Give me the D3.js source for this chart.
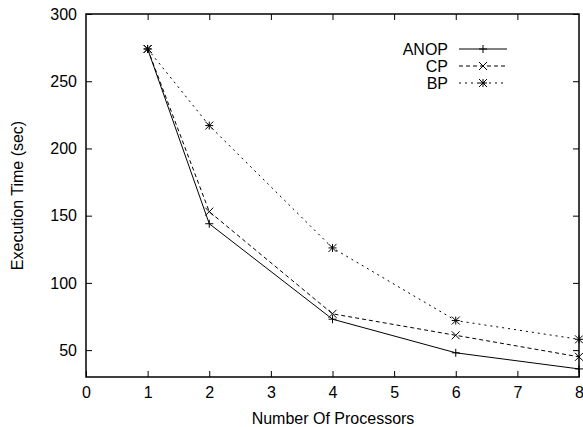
<!DOCTYPE html>
<html>
<head>
<meta charset="utf-8">
<script src="https://cdn.jsdelivr.net/npm/d3@7"></script>
<style>
  body { margin: 0; background: #fff; }
  svg { display: block; font-family: "Liberation Sans", Arial, sans-serif; }
</style>
</head>
<body>
<div id="chart"></div>
<script>
// Datos
const procesadores = [1, 2, 4, 6, 8];
const anop = [274, 144, 73, 48, 36];
const cp = [274, 153, 77, 61, 45];
const bp = [274, 217, 126, 72, 58];
const xTicks = [0, 1, 2, 3, 4, 5, 6, 7, 8];
const yTicks = [50, 100, 150, 200, 250, 300];

const series = [
  { nombre: "ANOP", valores: anop, dash: null, marca: "plus" },
  { nombre: "CP", valores: cp, dash: "4,3", marca: "cross" },
  { nombre: "BP", valores: bp, dash: "2,4", marca: "star" }
];

const width = 583, height = 427;
const mLeft = 86, mRight = 579, mTop = 14, mBottom = 377;
const fuente = "16px";

const x = d3.scaleLinear().domain([0, 8]).range([mLeft, mRight]);
const y = d3.scaleLinear().domain([30, 300]).range([mBottom, mTop]);

const svg = d3.select("#chart").append("svg")
  .attr("width", width)
  .attr("height", height);

// Marcas tipo gnuplot
function marca(g, tipo, cx, cy) {
  const r = 4;
  const p = [];
  if (tipo === "plus" || tipo === "star") {
    p.push([cx - r, cy, cx + r, cy], [cx, cy - r, cx, cy + r]);
  }
  if (tipo === "cross" || tipo === "star") {
    p.push([cx - r, cy - r, cx + r, cy + r], [cx - r, cy + r, cx + r, cy - r]);
  }
  p.forEach(s => {
    g.append("line")
      .attr("x1", s[0]).attr("y1", s[1]).attr("x2", s[2]).attr("y2", s[3])
      .attr("stroke", "#000").attr("stroke-width", 1);
  });
}

// Eje X (abajo y arriba, ticks hacia dentro)
svg.append("g")
  .attr("transform", `translate(0,${mBottom})`)
  .call(d3.axisBottom(x).tickValues(xTicks).tickSize(-6).tickPadding(10).tickFormat(d3.format("d")))
  .call(g => g.select(".domain").remove())
  .selectAll("text").style("font-size", fuente).attr("fill", "#000");

svg.append("g")
  .attr("transform", `translate(0,${mTop})`)
  .call(d3.axisTop(x).tickValues(xTicks.slice(1, 8)).tickSize(-6).tickFormat(""))
  .call(g => g.select(".domain").remove());

// Eje Y (izquierda y derecha)
svg.append("g")
  .attr("transform", `translate(${mLeft},0)`)
  .call(d3.axisLeft(y).tickValues(yTicks).tickSize(-6).tickPadding(9))
  .call(g => g.select(".domain").remove())
  .selectAll("text").style("font-size", fuente).attr("fill", "#000");

svg.append("g")
  .attr("transform", `translate(${mRight},0)`)
  .call(d3.axisRight(y).tickValues(yTicks).tickSize(-6).tickFormat(""))
  .call(g => g.select(".domain").remove());

// Borde
svg.append("rect")
  .attr("x", mLeft).attr("y", mTop)
  .attr("width", mRight - mLeft).attr("height", mBottom - mTop)
  .attr("fill", "none").attr("stroke", "#000").attr("stroke-width", 1.5);

// Líneas
const linea = d3.line().x((d, i) => x(procesadores[i])).y(d => y(d));

series.forEach(s => {
  svg.append("path")
    .datum(s.valores)
    .attr("d", linea)
    .attr("fill", "none")
    .attr("stroke", "#000")
    .attr("stroke-width", 1)
    .attr("stroke-dasharray", s.dash);
  const g = svg.append("g");
  s.valores.forEach((v, i) => marca(g, s.marca, x(procesadores[i]), y(v)));
});

// Leyenda
series.forEach((s, i) => {
  const ly = 49 + i * 17;
  svg.append("text")
    .attr("x", 448).attr("y", ly + 6)
    .attr("text-anchor", "end")
    .style("font-size", fuente)
    .text(s.nombre);
  svg.append("line")
    .attr("x1", 459).attr("x2", 507).attr("y1", ly).attr("y2", ly)
    .attr("stroke", "#000").attr("stroke-width", 1)
    .attr("stroke-dasharray", s.dash);
  marca(svg.append("g"), s.marca, 483, ly);
});

// Etiquetas de los ejes
svg.append("text")
  .attr("x", 333)
  .attr("y", 424)
  .attr("text-anchor", "middle")
  .style("font-size", fuente)
  .text("Number Of Processors");

svg.append("text")
  .attr("transform", `translate(23,${(mTop + mBottom) / 2}) rotate(-90)`)
  .attr("text-anchor", "middle")
  .style("font-size", fuente)
  .text("Execution Time (sec)");
</script>
</body>
</html>
